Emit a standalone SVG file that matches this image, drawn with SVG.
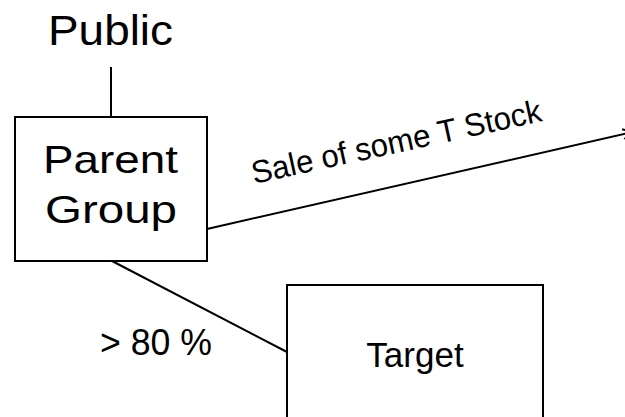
<svg xmlns="http://www.w3.org/2000/svg" width="625" height="417" viewBox="0 0 625 417">
  <style>
    .box { fill: #ffffff; stroke: #000000; stroke-width: 2; }
    .link { fill: none; stroke: #000000; stroke-width: 2; }
    text { font-family: "Liberation Sans", Arial, sans-serif; fill: #000000; }
  </style>
  <defs>
    <marker id="open-arrow" viewBox="0 0 12 12" refX="11" refY="6" markerWidth="12" markerHeight="12" markerUnits="userSpaceOnUse" orient="auto">
      <path d="M1,1 L11,6 L1,11" fill="none" stroke="#000000" stroke-width="2"/>
    </marker>
  </defs>
  <rect width="625" height="417" fill="#ffffff"/>

  <!-- connectors -->
  <g id="connectors">
    <line class="link" x1="111" y1="67" x2="111" y2="117"/>
    <line class="link" x1="207" y1="229" x2="633" y2="132" marker-end="url(#open-arrow)"/>
    <line class="link" x1="112" y1="261" x2="287" y2="352"/>
    <text x="100" y="355" font-size="36" textLength="112" lengthAdjust="spacingAndGlyphs">&gt; 80 %</text>
    <text transform="translate(254,184) rotate(-12.3)" font-size="32" textLength="296" lengthAdjust="spacingAndGlyphs">Sale of some T Stock</text>
  </g>

  <!-- public shareholders -->
  <g id="public">
    <text x="110.5" y="45" font-size="43" text-anchor="middle" textLength="125" lengthAdjust="spacingAndGlyphs">Public</text>
  </g>

  <!-- parent group -->
  <g id="parent">
    <rect class="box" x="15" y="117" width="192" height="144"/>
    <text x="110.5" y="173" font-size="39" text-anchor="middle" textLength="135" lengthAdjust="spacingAndGlyphs">Parent</text>
    <text x="111" y="223" font-size="39" text-anchor="middle" textLength="132" lengthAdjust="spacingAndGlyphs">Group</text>
  </g>

  <!-- target -->
  <g id="target">
    <rect class="box" x="287" y="285" width="256" height="150"/>
    <text x="415" y="367" font-size="35" text-anchor="middle">Target</text>
  </g>
</svg>
